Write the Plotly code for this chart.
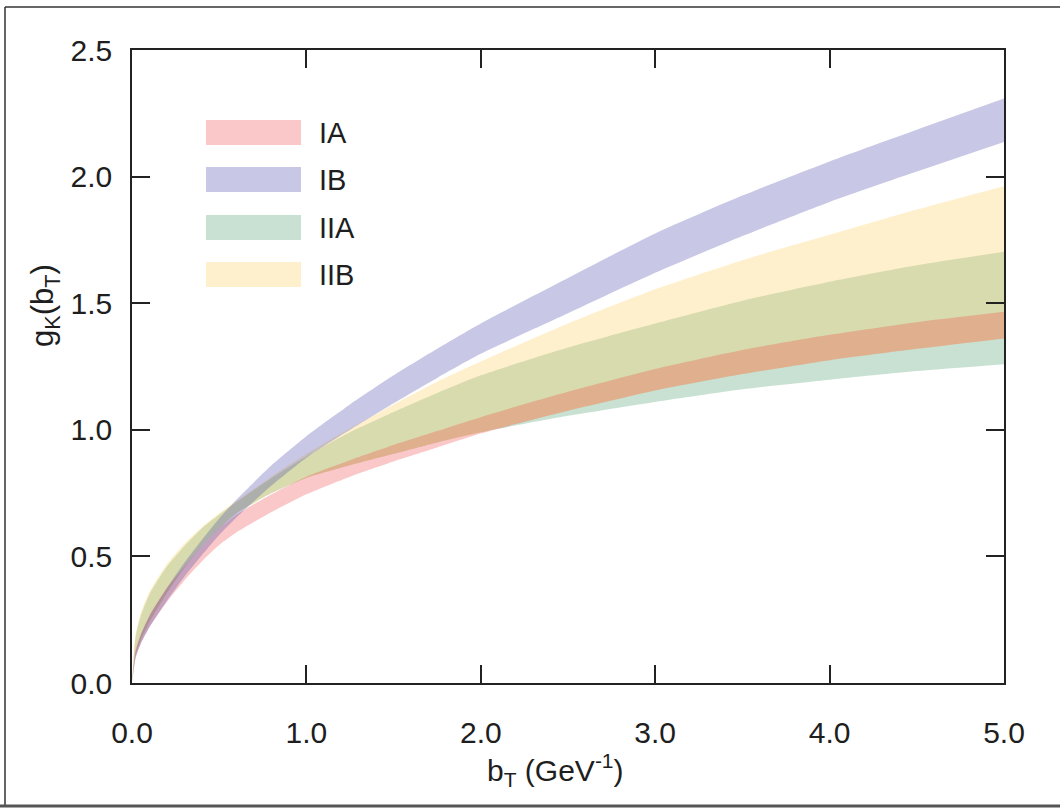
import plotly.graph_objects as go

# b_T grid (GeV^-1)
b_t = [0.0, 0.02, 0.05, 0.1, 0.2, 0.3, 0.4, 0.5, 0.6, 0.8, 1.0, 1.25, 1.5, 1.75,
       2.0, 2.5, 3.0, 3.5, 4.0, 4.5, 5.0]

# Uncertainty bands of g_K(b_T): lower / upper edges
ia_lo = [0.0, 0.10, 0.155, 0.22, 0.32, 0.405, 0.48, 0.545, 0.595, 0.675, 0.745, 0.815, 0.875, 0.93,
         0.985, 1.075, 1.155, 1.22, 1.275, 1.32, 1.361]
ia_hi = [0.0, 0.13, 0.19, 0.265, 0.375, 0.46, 0.54, 0.61, 0.665, 0.745, 0.815, 0.88, 0.94, 0.995,
         1.05, 1.15, 1.24, 1.315, 1.375, 1.425, 1.466]

ib_lo = [0.0, 0.095, 0.155, 0.22, 0.325, 0.42, 0.505, 0.585, 0.655, 0.78, 0.89, 1.0, 1.105, 1.205,
         1.30, 1.46, 1.62, 1.765, 1.90, 2.02, 2.137]
ib_hi = [0.0, 0.12, 0.19, 0.265, 0.375, 0.475, 0.565, 0.65, 0.725, 0.86, 0.975, 1.10, 1.215, 1.32,
         1.42, 1.60, 1.775, 1.925, 2.06, 2.185, 2.308]

iia_lo = [0.0, 0.11, 0.17, 0.24, 0.355, 0.455, 0.54, 0.61, 0.67, 0.75, 0.81, 0.86, 0.905, 0.95,
          0.99, 1.055, 1.11, 1.16, 1.198, 1.232, 1.259]
iia_hi = [0.0, 0.18, 0.265, 0.35, 0.46, 0.54, 0.61, 0.665, 0.715, 0.81, 0.895, 0.99, 1.07, 1.145,
          1.215, 1.325, 1.42, 1.51, 1.585, 1.65, 1.703]

iib_lo = [0.0, 0.11, 0.17, 0.24, 0.355, 0.455, 0.54, 0.61, 0.67, 0.75, 0.81, 0.86, 0.905, 0.95,
          0.99, 1.075, 1.155, 1.22, 1.275, 1.32, 1.361]
iib_hi = [0.0, 0.19, 0.275, 0.36, 0.47, 0.55, 0.615, 0.67, 0.72, 0.815, 0.905, 1.005, 1.10, 1.19,
          1.27, 1.42, 1.555, 1.67, 1.77, 1.87, 1.962]

labels = ["IA", "IB", "IIA", "IIB"]
fills = {
    "IA": "rgba(238,72,72,0.3)",
    "IB": "rgba(72,72,172,0.3)",
    "IIA": "rgba(72,155,105,0.3)",
    "IIB": "rgba(255,205,88,0.3)",
}
bands = {
    "IA": (ia_lo, ia_hi),
    "IB": (ib_lo, ib_hi),
    "IIA": (iia_lo, iia_hi),
    "IIB": (iib_lo, iib_hi),
}

W, H = 1060, 808
L, R, T, B = 132, 56, 50, 125
PW, PH = W - L - R, H - T - B
FONT = "Liberation Sans, Arial, Helvetica, sans-serif"
INK = "#1e1e1e"


def px(x):
    return (x - L) / PW


def py(y):
    return (H - B - y) / PH


fig = go.Figure()

for name in ["IIA", "IIB", "IA", "IB"]:
    lo, hi = bands[name]
    fig.add_trace(go.Scatter(x=b_t, y=lo, mode="lines", line=dict(width=0, shape="spline", smoothing=0.6),
                             showlegend=False, hoverinfo="skip"))
    fig.add_trace(go.Scatter(x=b_t, y=hi, mode="lines", line=dict(width=0, shape="spline", smoothing=0.6),
                             fill="tonexty", fillcolor=fills[name], name=name, showlegend=False))

shapes = []
annotations = []

# legend: wide colour swatches with labels
leg_top = [120, 167, 215, 262]
for name, top in zip(labels, leg_top):
    shapes.append(dict(type="rect", xref="paper", yref="paper",
                       x0=px(206), x1=px(301), y0=py(top + 25), y1=py(top),
                       fillcolor=fills[name], line=dict(width=0)))
    annotations.append(dict(text=name, xref="paper", yref="paper", x=px(317), y=py(top + 13),
                            xanchor="left", yanchor="middle", showarrow=False,
                            font=dict(family=FONT, size=29, color=INK)))

# outer frame
shapes.append(dict(type="line", xref="paper", yref="paper", x0=px(5), x1=px(1060), y0=py(7), y1=py(7),
                   line=dict(color="#333", width=1.5)))
shapes.append(dict(type="line", xref="paper", yref="paper", x0=px(5), x1=px(5), y0=py(7), y1=py(806),
                   line=dict(color="#333", width=1.5)))
shapes.append(dict(type="line", xref="paper", yref="paper", x0=px(0), x1=px(1060), y0=py(806), y1=py(806),
                   line=dict(color="#555", width=3)))

# axis titles
annotations.append(dict(text="g<sub>K</sub>(b<sub>T</sub>)", xref="paper", yref="paper",
                        x=px(45), y=py(306), textangle=-90, showarrow=False,
                        xanchor="center", yanchor="middle",
                        font=dict(family=FONT, size=31, color=INK)))
annotations.append(dict(text="b<sub>T</sub> (GeV<sup>-1</sup>)", xref="paper", yref="paper",
                        x=px(555), y=py(770), showarrow=False,
                        xanchor="center", yanchor="middle",
                        font=dict(family=FONT, size=30, color=INK)))

axis_common = dict(showline=True, linecolor="#222", linewidth=1.5, mirror="ticks",
                   ticks="inside", ticklen=18, tickwidth=1.5, tickcolor="#222",
                   showgrid=False, zeroline=False, tickformat=".1f",
                   tickfont=dict(family=FONT, size=30, color=INK))

fig.update_layout(
    width=W, height=H,
    margin=dict(l=L, r=R, t=T, b=B),
    paper_bgcolor="white", plot_bgcolor="white",
    xaxis=dict(range=[0, 5], tickvals=[0, 1, 2, 3, 4, 5], ticklabelstandoff=22, **axis_common),
    yaxis=dict(range=[0, 2.5], tickvals=[0, 0.5, 1.0, 1.5, 2.0, 2.5], ticklabelstandoff=12, **axis_common),
    shapes=shapes,
    annotations=annotations,
    showlegend=False,
)

fig.write_html("out.html")
